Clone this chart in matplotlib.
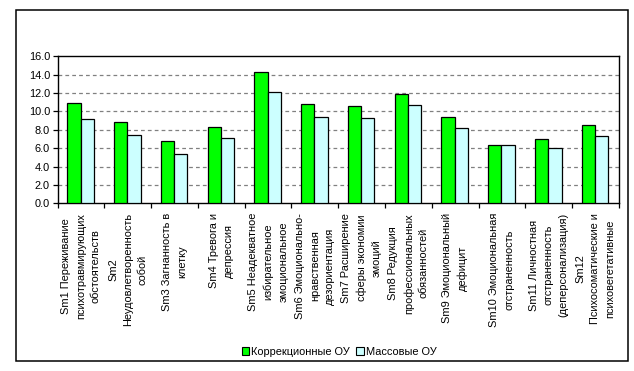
import numpy as np
import matplotlib
matplotlib.use('Agg')
import matplotlib.pyplot as plt
from matplotlib.patches import Rectangle, Patch

categories = [
    "Sm1 Переживание\nпсихотравмирующих\nобстоятельств",
    "Sm2\nНеудовлетворенность\nсобой",
    "Sm3 Загнанность в\nклетку",
    "Sm4 Тревога и\nдепрессия",
    "Sm5 Неадекватное\nизбирательное\nэмоциональное",
    "Sm6 Эмоционально-\nнравственная\nдезориентация",
    "Sm7 Расширение\nсферы экономии\nэмоций",
    "Sm8 Редукция\nпрофессиональных\nобязанностей",
    "Sm9 Эмоциональный\nдефицит",
    "Sm10 Эмоциональная\nотстраненность",
    "Sm11 Личностная\nотстраненность\n(деперсонализация)",
    "Sm12\nПсихосоматические и\nпсиховегетативные",
]
correction = [10.9, 8.9, 6.75, 8.3, 14.25, 10.8, 10.65, 11.9, 9.45, 6.3, 6.95, 8.5]
mass = [9.15, 7.45, 5.35, 7.15, 12.1, 9.35, 9.25, 10.75, 8.15, 6.4, 6.0, 7.3]
series_names = ["Коррекционные ОУ", "Массовые ОУ"]
colors = ["#00ff00", "#ccffff"]

plt.rcParams['font.family'] = ['Liberation Sans', 'DejaVu Sans']
fs = 7.9

fig = plt.figure(figsize=(6.34, 3.71), dpi=100)
ax = fig.add_axes([0.091, 0.452, 0.885, 0.396])

n = len(categories)
x = np.arange(n)
w = 0.285
ax.bar(x + 0.49 - w / 2, correction, width=w, color=colors[0], edgecolor='black', linewidth=0.9, zorder=3)
ax.bar(x + 0.49 + w / 2, mass, width=w, color=colors[1], edgecolor='black', linewidth=0.9, zorder=3)

ax.set_xlim(0, n)
ax.set_ylim(0, 16)
ax.set_yticks(np.arange(0, 17, 2))
ax.set_yticklabels([f"{v:.1f}" for v in np.arange(0, 17, 2)], fontsize=fs)
ax.set_xticks(np.arange(0, n + 1))
ax.set_xticklabels([])
ax.set_xticks(x + 0.5, minor=True)
ax.set_xticklabels(categories, minor=True, rotation=90, va='top', ha='center',
                   multialignment='center', fontsize=fs, linespacing=1.6)
ax.tick_params(axis='x', which='minor', length=0, pad=7)
ax.tick_params(axis='both', which='major', direction='out', length=3.5, width=0.9, color='black')
ax.tick_params(axis='y', pad=2)

for v in np.arange(2, 16, 2):
    ax.axhline(v, color='#808080', linestyle=(0, (3, 2.5)), linewidth=0.9, zorder=1)
for s in ax.spines.values():
    s.set_linewidth(1.0)
    s.set_color('black')

handles = [Patch(facecolor=c, edgecolor='black', linewidth=0.8) for c in colors]
fig.legend(handles, series_names, loc='center', bbox_to_anchor=(0.535, 0.052), ncol=2,
           frameon=False, fontsize=fs, handlelength=0.65, handleheight=0.65,
           handletextpad=0.2, columnspacing=0.6)

fig.patches.append(Rectangle((16 / 634, 1 - 361 / 371), 612 / 634, 351 / 371,
                             transform=fig.transFigure, fill=False, edgecolor='black',
                             linewidth=1.1))

fig.savefig('out.png', dpi=100)
